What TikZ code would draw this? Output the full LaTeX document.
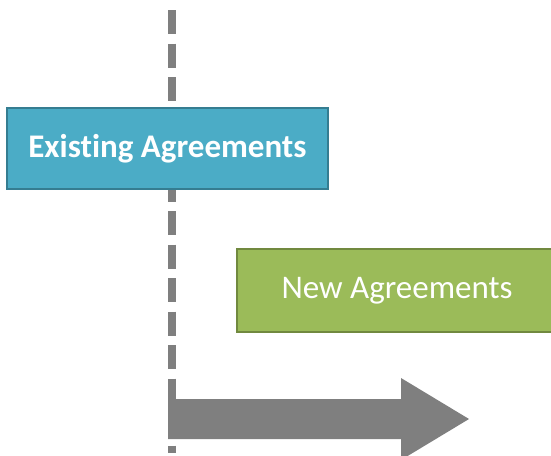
\documentclass[tikz,border=0pt]{standalone}
\usepackage{fontspec}
\setmainfont[Ligatures={NoCommon,NoDiscretionary}]{Carlito}
\definecolor{bluefill}{HTML}{4BACC6}
\definecolor{blueline}{HTML}{357D91}
\definecolor{greenfill}{HTML}{9BBB59}
\definecolor{greenline}{HTML}{71893F}
\definecolor{greyc}{HTML}{7F7F7F}
\begin{document}
\begin{tikzpicture}[x=1pt,y=-1pt,
  boxstyle/.style={draw, line width=2.5pt, inner sep=0pt, text=white,
    font=\fontsize{33}{38}\selectfont},
  dashline/.style={greyc, line width=8pt, dash pattern=on 24pt off 9.5pt},
  blockarrow/.style={fill=greyc, draw=none}]
\useasboundingbox (0,0) rectangle (551,455);
\clip (0,0) rectangle (551,455);
\coordinate (top) at (172,10);
\coordinate (bot) at (172,453);
\draw[dashline] (top) -- (bot);
\node[boxstyle, fill=bluefill, draw=blueline, minimum width=321pt, minimum height=81pt,
  font=\fontsize{33}{38}\selectfont\bfseries] (exist) at (167.5,148.5) {Existing Agreements};
\node[boxstyle, fill=greenfill, draw=greenline, minimum width=320pt, minimum height=83pt]
  (new) at (397,290.5) {New Agreements};
\fill[blockarrow] (168,399) -- (401,399) -- (401,378) -- (469,419) -- (401,460)
  -- (401,439) -- (168,439) -- cycle;
\end{tikzpicture}
\end{document}
